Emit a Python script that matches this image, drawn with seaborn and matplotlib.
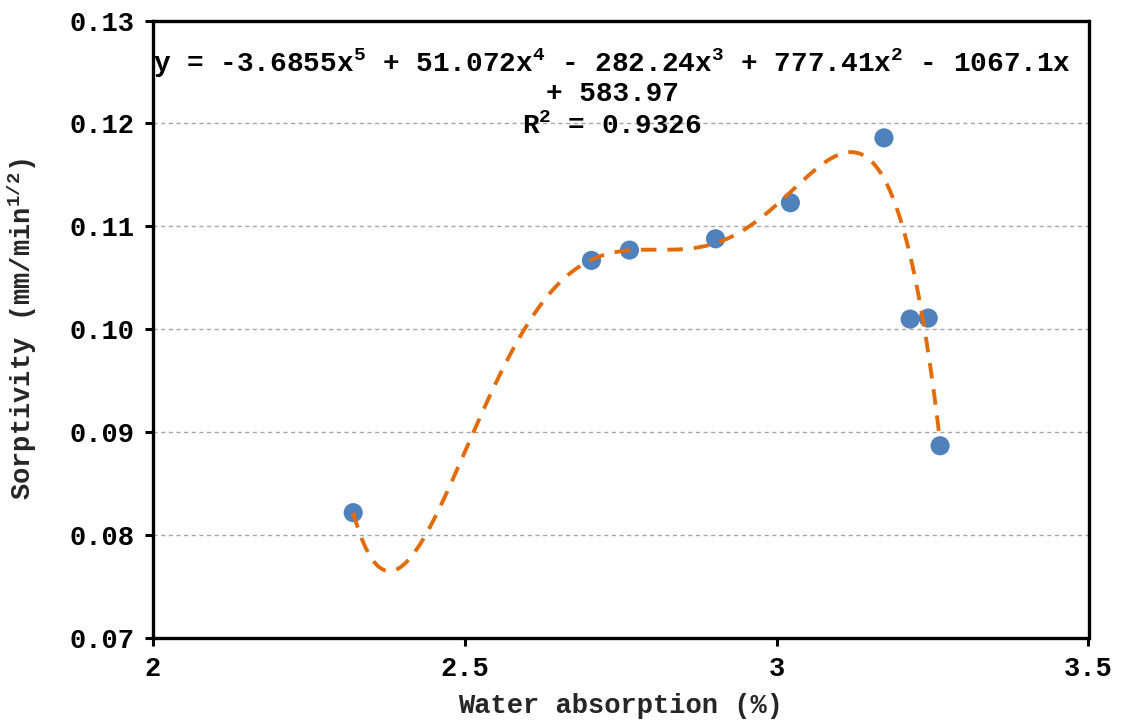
import numpy as np
import pandas as pd
import matplotlib
matplotlib.use("Agg")
import matplotlib.pyplot as plt
from matplotlib.ticker import FuncFormatter
import seaborn as sns

# ---- data ----
water_absorption = [2.321, 2.703, 2.764, 2.902, 3.022, 3.172, 3.214, 3.243, 3.262]
sorptivity = [0.0822, 0.1067, 0.1077, 0.1088, 0.1123, 0.1186, 0.1010, 0.1011, 0.0887]
x_ticks = [2.0, 2.5, 3.0, 3.5]
y_ticks = [0.07, 0.08, 0.09, 0.10, 0.11, 0.12, 0.13]
eq_line1 = "y = -3.6855x$^{5}$ + 51.072x$^{4}$ - 282.24x$^{3}$ + 777.41x$^{2}$ - 1067.1x"
eq_line2 = "+ 583.97"
eq_line3 = "R$^{2}$ = 0.9326"
x_label = "Water absorption (%)"
y_label = "Sorptivity (mm/min$^{1/2}$)"

sns.set_theme(style="white")
plt.rcParams["font.family"] = ["Liberation Mono", "DejaVu Sans Mono"]
plt.rcParams["font.weight"] = "bold"
plt.rcParams["mathtext.fontset"] = "custom"
plt.rcParams["mathtext.rm"] = "Liberation Mono:bold"
plt.rcParams["mathtext.it"] = "Liberation Mono:bold"
plt.rcParams["mathtext.bf"] = "Liberation Mono:bold"
plt.rcParams["mathtext.default"] = "rm"

df = pd.DataFrame({"x": water_absorption, "y": sorptivity})

fig = plt.figure(figsize=(11.25, 7.24), dpi=100)
ax = fig.add_axes([153 / 1125, 1 - 638.3 / 724, (1088.5 - 153) / 1125, (638.3 - 20.5) / 724])

# gridlines
for yv in y_ticks[1:-1]:
    ax.axhline(yv, color="#A6A6A6", linestyle=(0, (3, 2.5)), linewidth=1.0, zorder=0)

# polynomial trendline (degree 5), fitted to the data
coef = np.polyfit(df["x"], df["y"], 5)
xs = np.linspace(df["x"].min(), df["x"].max(), 400)
ys = np.polyval(coef, xs)
trend = pd.DataFrame({"x": xs, "y": ys})

sns.scatterplot(data=df, x="x", y="y", ax=ax, s=190, color="#4F81BD",
                edgecolor="none", zorder=3)
sns.lineplot(data=trend, x="x", y="y", ax=ax, color="#E36C0A", linewidth=2.8,
             linestyle=(0, (4, 2.8)), zorder=4, sort=False)

ax.set_xlim(2.0, 3.5)
ax.set_ylim(0.07, 0.13)
ax.set_xticks(x_ticks)
ax.set_yticks(y_ticks)
ax.xaxis.set_major_formatter(FuncFormatter(lambda v, p: f"{v:g}"))
ax.yaxis.set_major_formatter(FuncFormatter(lambda v, p: f"{v:.2f}"))

for s in ax.spines.values():
    s.set_visible(True)
    s.set_color("black")
    s.set_linewidth(2.4)

ax.tick_params(axis="both", which="major", direction="out", length=6, width=2.2,
               color="black", labelsize=19.5, labelcolor="black")
ax.tick_params(axis="y", pad=7)
ax.tick_params(axis="x", pad=7)
ax.tick_params(left=True, bottom=True)
for lab in ax.get_xticklabels() + ax.get_yticklabels():
    lab.set_fontweight("bold")

ax.set_xlabel(x_label, fontsize=19.5, fontweight="bold")
ax.set_ylabel(y_label, fontsize=19.5, fontweight="bold")
ax.xaxis.set_label_coords(0.5, -(706 - 638.3) / 617.8)
ax.yaxis.set_label_coords(-(153 - 22) / 935.5, 0.5)
ax.xaxis.label.set_va("center")
ax.yaxis.label.set_va("center")

tx = (612 - 153) / (1088.5 - 153)
ax.text(tx, (638.3 - 63) / 617.8, eq_line1, transform=ax.transAxes, ha="center",
        va="center", fontsize=20, fontweight="bold", color="black", zorder=5)
ax.text(tx, (638.3 - 94) / 617.8, eq_line2, transform=ax.transAxes, ha="center",
        va="center", fontsize=20, fontweight="bold", color="black", zorder=5)
ax.text(tx, (638.3 - 126) / 617.8, eq_line3, transform=ax.transAxes, ha="center",
        va="center", fontsize=20, fontweight="bold", color="black", zorder=5)

fig.savefig("out.png", dpi=100, facecolor="white")
